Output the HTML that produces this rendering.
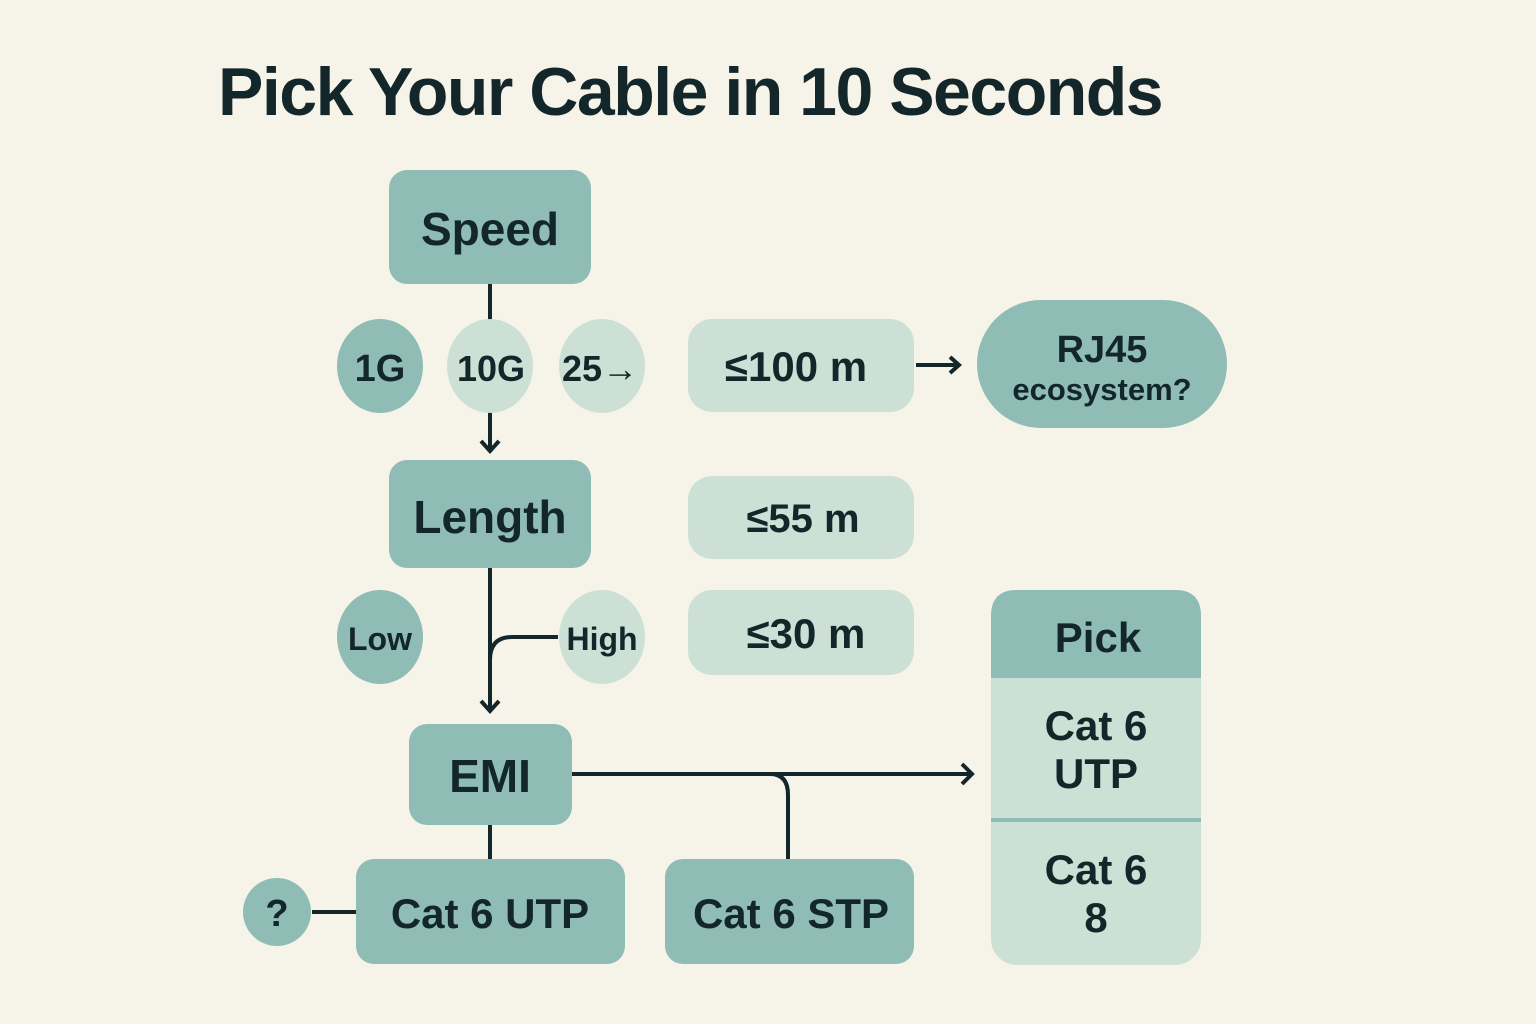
<!DOCTYPE html>
<html><head><meta charset="utf-8"><style>
html,body{margin:0;padding:0;background:#f6f3e8}
svg{display:block}
text{font-family:"Liberation Sans",sans-serif;fill:#13262a;font-weight:bold}
</style></head><body>
<svg width="1536" height="1024" viewBox="0 0 1536 1024" xmlns="http://www.w3.org/2000/svg">
<rect width="1536" height="1024" fill="#f6f3e8"/>
<text x="218" y="115" font-size="68" letter-spacing="-1.5">Pick Your Cable in 10 Seconds</text>
<g stroke="#13262a" stroke-width="4" fill="none">
<line x1="490" y1="284" x2="490" y2="322"/>
<line x1="490" y1="412" x2="490" y2="450"/>
<polyline points="481,441 490,451 499,441"/>
<line x1="916" y1="365" x2="958" y2="365"/>
<polyline points="950,357 959,365 950,373"/>
<line x1="490" y1="568" x2="490" y2="710"/>
<polyline points="481,701 490,711 499,701"/>
<path d="M558,637 H512 Q490,637 490,660"/>
<line x1="572" y1="774" x2="972" y2="774"/>
<polyline points="962,764 972,774 962,784"/>
<path d="M770,774 Q788,774 788,795 V860"/>
<line x1="490" y1="825" x2="490" y2="860"/>
<line x1="312" y1="912" x2="356" y2="912"/>
</g>
<g fill="#8fbcb4">
<rect x="389" y="170" width="202" height="114" rx="18"/>
<rect x="389" y="460" width="202" height="108" rx="18"/>
<rect x="409" y="724" width="163" height="101" rx="18"/>
<rect x="356" y="859" width="269" height="105" rx="18"/>
<rect x="665" y="859" width="249" height="105" rx="18"/>
<ellipse cx="380" cy="366" rx="43" ry="47"/>
<ellipse cx="380" cy="637" rx="43" ry="47"/>
<circle cx="277" cy="912" r="34"/>
<rect x="977" y="300" width="250" height="128" rx="64"/>
</g>
<g fill="#cde0d6">
<ellipse cx="490" cy="366" rx="43" ry="47"/>
<ellipse cx="602" cy="366" rx="43" ry="47"/>
<ellipse cx="602" cy="637" rx="43" ry="47"/>
<rect x="688" y="319" width="226" height="93" rx="24"/>
<rect x="688" y="476" width="226" height="83" rx="24"/>
<rect x="688" y="590" width="226" height="85" rx="24"/>
<rect x="991" y="590" width="210" height="375" rx="26"/>
</g>
<path d="M991,678 V616 Q991,590 1017,590 H1175 Q1201,590 1201,616 V678 Z" fill="#8fbcb4"/>
<line x1="991" y1="820" x2="1201" y2="820" stroke="#8fbcb4" stroke-width="4"/>
<g text-anchor="middle">
<text x="490" y="245" font-size="46">Speed</text>
<text x="490" y="533" font-size="46">Length</text>
<text x="490" y="792" font-size="46">EMI</text>
<text x="490" y="928" font-size="42">Cat 6 UTP</text>
<text x="791" y="928" font-size="42">Cat 6 STP</text>
<text x="380" y="381" font-size="38">1G</text>
<text x="491" y="381" font-size="36">10G</text>
<text x="600" y="381" font-size="36">25→</text>
<text x="380" y="650" font-size="32">Low</text>
<text x="602" y="650" font-size="32">High</text>
<text x="277" y="926" font-size="38">?</text>
<text x="796" y="381" font-size="42">≤100 m</text>
<text x="803" y="532" font-size="40">≤55 m</text>
<text x="806" y="648" font-size="42">≤30 m</text>
<text x="1102" y="362" font-size="38">RJ45</text>
<text x="1102" y="400" font-size="31">ecosystem?</text>
<text x="1098" y="652" font-size="42">Pick</text>
<text x="1096" y="740" font-size="42">Cat 6</text>
<text x="1096" y="788" font-size="42">UTP</text>
<text x="1096" y="884" font-size="42">Cat 6</text>
<text x="1096" y="932" font-size="42">8</text>
</g>
</svg>
</body></html>
